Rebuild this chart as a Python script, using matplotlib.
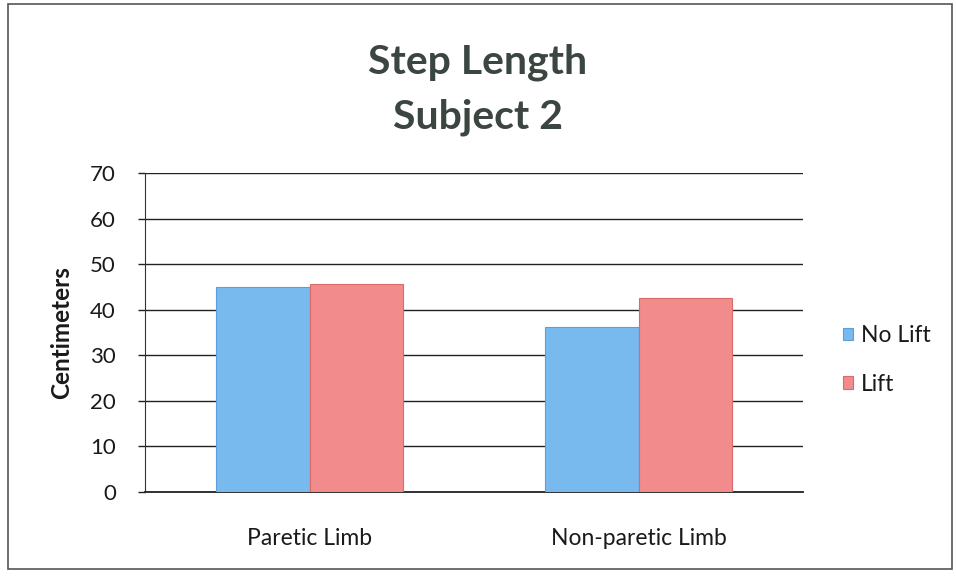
import matplotlib
matplotlib.use("Agg")
import matplotlib.pyplot as plt
from matplotlib.patches import Rectangle
import numpy as np

categories = ["Paretic Limb", "Non-paretic Limb"]
series_names = ["No Lift", "Lift"]
no_lift = [45.0, 36.3]
lift = [45.6, 42.6]
yticks = [0, 10, 20, 30, 40, 50, 60, 70]

plt.rcParams['font.family'] = ['Lato', 'DejaVu Sans']

fig = plt.figure(figsize=(9.56, 5.79), dpi=100)
ax = fig.add_axes([0.1517, 0.1503, 0.6883, 0.5509])

x = np.arange(len(categories))
w = 0.283
ax.bar(x - w/2, no_lift, w, color='#78b9ee', edgecolor='#5aa0dc', linewidth=0.8, label=series_names[0], zorder=3)
ax.bar(x + w/2, lift, w, color='#f28c8c', edgecolor='#d86a6a', linewidth=0.8, label=series_names[1], zorder=3)

ax.set_xlim(-0.5, 1.5)
ax.set_ylim(0, 70)
ax.set_yticks(yticks)
ax.set_xticks(x)
ax.set_xticklabels(categories, fontsize=16.5, color='#1a1a1a')
ax.tick_params(axis='x', length=0, pad=26)
ax.tick_params(axis='y', length=5, width=1, colors='#222222', labelsize=16, pad=16, direction='out')
for lab in ax.get_yticklabels():
    lab.set_color('#1a1a1a')
ax.yaxis.grid(True, color='#222222', linewidth=1)
ax.set_axisbelow(True)
for s in ['top', 'right']:
    ax.spines[s].set_visible(False)
ax.spines['left'].set_color('#333333')
ax.spines['bottom'].set_color('#222222')
ax.spines['bottom'].set_linewidth(1.3)

ax.set_ylabel("Centimeters", fontsize=17.5, fontweight='bold', color='#1a1a1a', labelpad=12)

fig.text(0.5, 1 - 74/579, "Step Length", ha='center', va='baseline', fontsize=29.5, fontweight='bold', color='#3c4641')
fig.text(0.5, 1 - 129/579, "Subject 2", ha='center', va='baseline', fontsize=29.5, fontweight='bold', color='#3c4641')

leg = ax.legend(loc='center left', bbox_to_anchor=(1.06, 0.414), frameon=False, fontsize=16.5,
                handlelength=0.45, handleheight=0.45, handletextpad=0.35, labelspacing=1.2,
                borderpad=0, borderaxespad=0)
for t in leg.get_texts():
    t.set_color('#1a1a1a')

fig.patches.append(Rectangle((0.008, 0.018), 0.988, 0.975, transform=fig.transFigure,
                             fill=False, edgecolor='#555555', linewidth=1.2))

fig.savefig("out.png", dpi=100)
